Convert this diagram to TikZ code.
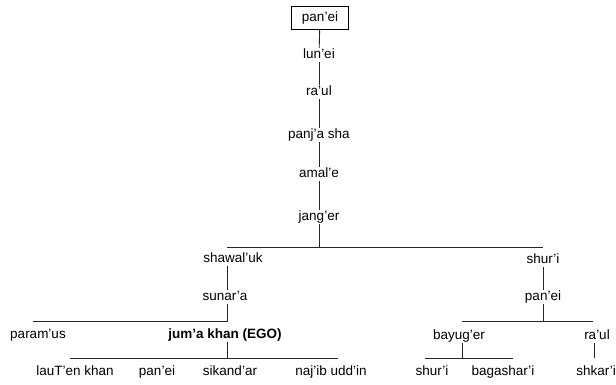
\documentclass[tikz,border=0pt]{standalone}
\usepackage{fontspec}
\setmainfont{Liberation Sans}
\tikzset{
  kin/.style={inner sep=1pt, text height=9.5pt, text depth=2.5pt, font=\fontsize{13.5}{15}\selectfont},
  rootbox/.style={kin, draw, minimum width=57pt, minimum height=23pt},
  tie/.style={line width=0.9pt, black!85}
}
\begin{document}
\begin{tikzpicture}[x=1pt,y=-1pt]
\useasboundingbox (0,0) rectangle (616,384);
% line of descent
\node[rootbox] (top) at (320,17.5) {pan'ei};
\node[kin] (lunei) at (319,55) {lun'ei};
\node[kin] (raul) at (319,92) {ra'ul};
\node[kin] (panja) at (319,135) {panj'a sha};
\node[kin] (amale) at (319,174) {amal'e};
\node[kin] (janger) at (319,217) {jang'er};
\draw[tie] (top) -- (lunei);
\draw[tie] (lunei) -- (raul);
\draw[tie] (raul) -- (panja);
\draw[tie] (panja) -- (amale);
\draw[tie] (amale) -- (janger);
\coordinate (jbar) at (319,247);
\draw[tie] (janger) -- (jbar);
\draw[tie] (227,247) -- (543,247);
% left branch
\node[kin] (shawaluk) at (233,259) {shawal'uk};
\node[kin] (sunara) at (225,297) {sunar'a};
\draw[tie] (227,259) ++(0,7) coordinate (s1) (s1) -- (sunara.north -| s1);
\coordinate (sbar) at (227,321);
\draw[tie] (sunara.south -| sbar) -- (sbar) -- (33,321);
\node[kin] (paramus) at (38,335) {param'us};
\node[kin,font=\fontsize{13.5}{15}\selectfont\bfseries] (ego) at (225,335) {jum'a khan (EGO)};
\coordinate (ebar) at (227,358);
\draw[tie] (ego.south -| ebar) -- (ebar);
\draw[tie] (70,358) -- (338,358);
\node[kin] (lauten) at (75,372) {lauT'en khan};
\node[kin] (panei) at (157,372) {pan'ei};
\node[kin] (sikandar) at (230,372) {sikand'ar};
\node[kin] (najib) at (331,372) {naj'ib udd'in};
% right branch
\node[kin] (shuri) at (543,260) {shur'i};
\node[kin] (paneiR) at (543,297) {pan'ei};
\draw[tie] (shuri) -- (paneiR);
\coordinate (pbar) at (543,321);
\draw[tie] (paneiR) -- (pbar);
\draw[tie] (462,321) -- (593,321);
\node[kin] (bayuger) at (459,336) {bayug'er};
\node[kin] (raulR) at (597,336) {ra'ul};
\coordinate (bbar) at (462,358);
\draw[tie] (bayuger.south -| bbar) -- (bbar);
\draw[tie] (425,358) -- (513,358);
\node[kin] (shuriB) at (432,372) {shur'i};
\node[kin] (bagashari) at (503,372) {bagashar'i};
\node[kin] (shkari) at (596,372) {shkar'i};
\coordinate (rend) at (594,358);
\draw[tie] (raulR.south -| rend) -- (rend);
\end{tikzpicture}
\end{document}
